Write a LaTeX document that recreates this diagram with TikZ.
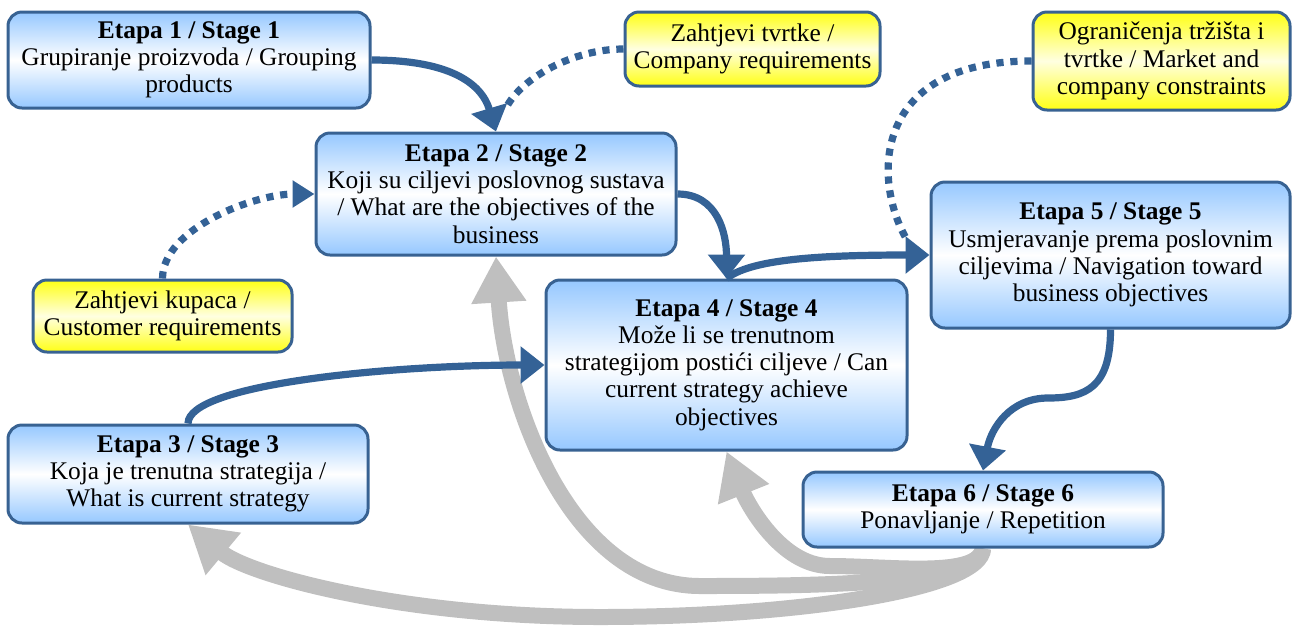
\documentclass[tikz,border=0pt]{standalone}
\usepackage{fontspec}
\setmainfont{Liberation Serif}
\usetikzlibrary{arrows.meta}
\pgfdeclarelayer{bg}
\pgfsetlayers{bg,main}
\definecolor{dblue}{RGB}{52,98,150}
\definecolor{bline}{RGB}{56,98,146}
\definecolor{lblue}{RGB}{150,200,255}
\definecolor{gfill}{RGB}{191,191,191}
\definecolor{yel}{RGB}{255,255,20}
\definecolor{ymid}{RGB}{255,255,225}
\begin{document}
\begin{tikzpicture}[x=0.5pt,y=-0.5pt,
  boxbase/.style={draw=bline, line width=1.5pt, rounded corners=7pt, align=center,
    inner sep=0pt, font=\fontsize{12.7pt}{13.6pt}\selectfont},
  bbox/.style={boxbase, top color=lblue, bottom color=lblue, middle color=white},
  ybox/.style={boxbase, top color=yel, bottom color=yel, middle color=ymid},
  barrow/.style={draw=dblue, line width=3.6pt, -{Triangle[length=12pt,width=18pt]}},
  dotline/.style={draw=dblue, line width=3.6pt, dash pattern=on 3.6pt off 3.4pt},
  darrow/.style={dotline, -{Triangle[length=11pt,width=13pt]}},
  garrow/.style={draw=gfill, line width=8pt, -{Triangle[length=23pt,width=26pt]}}
]
\useasboundingbox (0,0) rectangle (1294,628);

% nodes
\node[bbox, minimum width=181pt, minimum height=48pt] (B1) at (189,60)
  {\textbf{Etapa 1 / Stage 1}\\Grupiranje proizvoda / Grouping\\products};
\node[bbox, minimum width=180pt, minimum height=61pt] (B2) at (496,194)
  {\textbf{Etapa 2 / Stage 2}\\Koji su ciljevi poslovnog sustava\\/ What are the objectives of the\\business};
\node[ybox, minimum width=127.5pt, minimum height=37pt] (YT) at (752.5,49)
  {Zahtjevi tvrtke /\\Company requirements};
\node[ybox, minimum width=128.5pt, minimum height=49pt] (YO) at (1161.5,61)
  {Ograničenja tržišta i\\tvrtke / Market and\\company constraints};
\node[bbox, minimum width=179.5pt, minimum height=73pt] (B5) at (1110.5,255)
  {\textbf{Etapa 5 / Stage 5}\\Usmjeravanje prema poslovnim\\ciljevima / Navigation toward\\business objectives};
\node[ybox, minimum width=129.5pt, minimum height=36pt] (YK) at (162.5,316)
  {Zahtjevi kupaca /\\Customer requirements};
\node[bbox, minimum width=180.5pt, minimum height=85pt] (B4) at (726.5,365)
  {\textbf{Etapa 4 / Stage 4}\\Može li se trenutnom\\strategijom postići ciljeve / Can\\current strategy achieve\\objectives};
\node[bbox, minimum width=180pt, minimum height=49pt] (B3) at (188,474)
  {\textbf{Etapa 3 / Stage 3}\\Koja je trenutna strategija /\\What is current strategy};
\node[bbox, minimum width=180pt, minimum height=37.5pt] (B6) at (983,509.5)
  {\textbf{Etapa 6 / Stage 6}\\Ponavljanje / Repetition};

\coordinate (J1) at (506,108);
\coordinate (J2) at (907,240);
\coordinate (M8) at (1048,398);
\coordinate (G3m) at (600,617);
\coordinate (G2m) at (700,586);
\coordinate (G4m) at (830,566);

% gray feedback arrows (behind boxes)
\begin{pgfonlayer}{bg}
\draw[garrow] (B6.south) .. controls +(0,40) and +(200,0) .. (G3m)
  .. controls +(-200,0) and +(60,50) .. (B3.south);
\draw[garrow] (B6.south) .. controls +(-5,35) and +(130,0) .. (G2m)
  .. controls +(-130,0) and +(9,145) .. (B2.south);
\draw[garrow] (B6.south) .. controls +(-5,30) and +(60,0) .. (G4m)
  .. controls +(-50,0) and +(20,50) .. (B4.south);
\end{pgfonlayer}

% blue arrows
\draw[barrow] (B1.east) .. controls +(75,0) and +(-15,-50) .. (B2.north);
\draw[dotline] (YT.west) .. controls +(-50,0) and +(15,-30) .. (J1);
\draw[darrow] (YK.north) .. controls +(0,-50) and +(-60,0) .. (B2.west);
\draw[barrow] (B2.east) .. controls +(40,0) and +(0,-45) .. (B4.north);
\draw[barrow] (B4.north) .. controls +(23,-18) and +(-120,0) .. (B5.west);
\draw[dotline] (YO.west) .. controls +(-160,0) and +(-35,-60) .. (J2);
\draw[barrow] (B3.north) .. controls +(0,-40) and +(-150,0) .. (B4.west);
\draw[barrow] (B5.south) .. controls +(0,58) and +(38,0) .. (M8)
  .. controls +(-38,0) and +(8,-42) .. (B6.north);
\end{tikzpicture}
\end{document}
